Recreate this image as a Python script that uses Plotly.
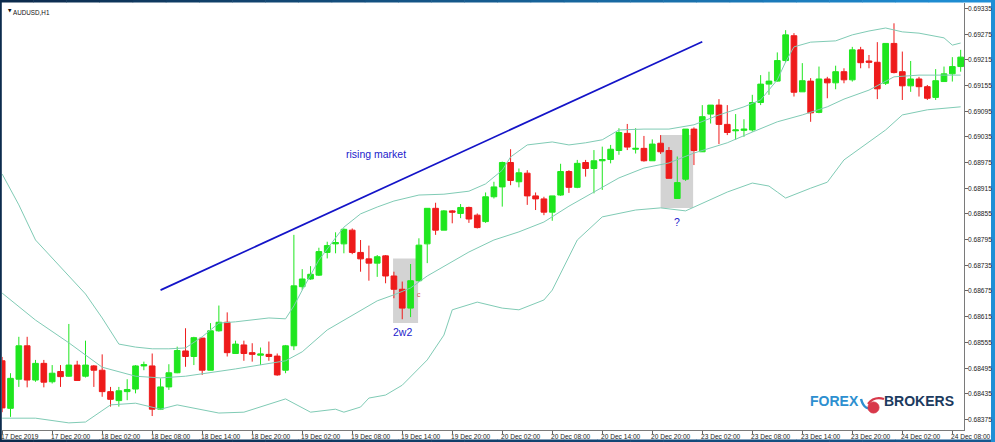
import plotly.graph_objects as go

# ---------------- data ----------------
bars = list(range(116))

opens = [0.68512, 0.68401, 0.68469, 0.68547, 0.68467, 0.68506, 0.68463, 0.68487, 0.68476, 0.68502,
         0.68476, 0.68500, 0.68490, 0.68440, 0.68419, 0.68440, 0.68446, 0.68500, 0.68500, 0.68399,
         0.68451, 0.68484, 0.68535, 0.68522, 0.68565, 0.68490, 0.68582, 0.68602, 0.68529, 0.68549,
         0.68531, 0.68525, 0.68527, 0.68523, 0.68490, 0.68547, 0.68685, 0.68703, 0.68712, 0.68765,
         0.68785, 0.68785, 0.68817, 0.68765, 0.68750, 0.68740, 0.68757, 0.68710, 0.68679, 0.68635,
         0.68699, 0.68785, 0.68868, 0.68817, 0.68862, 0.68856, 0.68870, 0.68852, 0.68837, 0.68895,
         0.68918, 0.68975, 0.68930, 0.68950, 0.68897, 0.68890, 0.68859, 0.68899, 0.68954, 0.68917,
         0.68975, 0.68961, 0.68979, 0.68982, 0.69003, 0.69043, 0.69006, 0.69008, 0.68979, 0.69020,
         0.69003, 0.68891, 0.68936, 0.69053, 0.69000, 0.69088, 0.69109, 0.69064, 0.69049, 0.69050,
         0.69051, 0.69115, 0.69158, 0.69165, 0.69213, 0.69271, 0.69140, 0.69165, 0.69092, 0.69170,
         0.69161, 0.69187, 0.69168, 0.69238, 0.69212, 0.69209, 0.69160, 0.69253, 0.69187, 0.69154,
         0.69170, 0.69152, 0.69127, 0.69164, 0.69182, 0.69199]
highs = [0.68521, 0.68483, 0.68568, 0.68568, 0.68514, 0.68514, 0.68502, 0.68502, 0.68598, 0.68512,
         0.68559, 0.68502, 0.68527, 0.68451, 0.68451, 0.68469, 0.68502, 0.68510, 0.68529, 0.68471,
         0.68504, 0.68545, 0.68588, 0.68568, 0.68565, 0.68600, 0.68641, 0.68625, 0.68559, 0.68559,
         0.68553, 0.68543, 0.68557, 0.68529, 0.68549, 0.68806, 0.68726, 0.68733, 0.68776, 0.68790,
         0.68812, 0.68821, 0.68821, 0.68794, 0.68781, 0.68759, 0.68759, 0.68720, 0.68697, 0.68738,
         0.68798, 0.68868, 0.68881, 0.68864, 0.68864, 0.68878, 0.68872, 0.68856, 0.68905, 0.68930,
         0.68977, 0.69006, 0.68961, 0.68957, 0.68905, 0.68895, 0.68897, 0.68972, 0.68957, 0.68981,
         0.68981, 0.69004, 0.69012, 0.69016, 0.69055, 0.69065, 0.69055, 0.69037, 0.69029, 0.69039,
         0.69011, 0.68989, 0.69053, 0.69057, 0.69109, 0.69109, 0.69123, 0.69109, 0.69088, 0.69076,
         0.69133, 0.69179, 0.69187, 0.69232, 0.69284, 0.69277, 0.69207, 0.69172, 0.69199, 0.69175,
         0.69201, 0.69195, 0.69245, 0.69245, 0.69226, 0.69256, 0.69253, 0.69300, 0.69234, 0.69212,
         0.69175, 0.69156, 0.69193, 0.69199, 0.69221, 0.69238]
lows = [0.68392, 0.68381, 0.68451, 0.68450, 0.68463, 0.68450, 0.68459, 0.68451, 0.68475, 0.68466,
        0.68473, 0.68451, 0.68428, 0.68405, 0.68405, 0.68420, 0.68436, 0.68490, 0.68383, 0.68397,
        0.68444, 0.68483, 0.68498, 0.68502, 0.68479, 0.68490, 0.68580, 0.68522, 0.68529, 0.68512,
        0.68510, 0.68502, 0.68512, 0.68477, 0.68483, 0.68537, 0.68677, 0.68701, 0.68710, 0.68751,
        0.68763, 0.68763, 0.68761, 0.68720, 0.68699, 0.68708, 0.68693, 0.68658, 0.68609, 0.68614,
        0.68696, 0.68740, 0.68806, 0.68817, 0.68833, 0.68845, 0.68834, 0.68821, 0.68834, 0.68891,
        0.68872, 0.68922, 0.68917, 0.68876, 0.68864, 0.68852, 0.68839, 0.68897, 0.68904, 0.68915,
        0.68942, 0.68903, 0.68911, 0.68973, 0.68993, 0.69004, 0.68996, 0.68977, 0.68979, 0.68995,
        0.68938, 0.68891, 0.68932, 0.68969, 0.69000, 0.69066, 0.69018, 0.69039, 0.69028, 0.69035,
        0.69047, 0.69109, 0.69133, 0.69164, 0.69209, 0.69129, 0.69140, 0.69070, 0.69090, 0.69125,
        0.69146, 0.69160, 0.69164, 0.69195, 0.69195, 0.69123, 0.69156, 0.69183, 0.69121, 0.69140,
        0.69129, 0.69121, 0.69121, 0.69164, 0.69164, 0.69187]
closes = [0.68402, 0.68471, 0.68547, 0.68467, 0.68506, 0.68462, 0.68483, 0.68475, 0.68502, 0.68466,
          0.68502, 0.68490, 0.68440, 0.68422, 0.68442, 0.68445, 0.68500, 0.68503, 0.68399, 0.68451,
          0.68484, 0.68536, 0.68522, 0.68566, 0.68490, 0.68582, 0.68602, 0.68531, 0.68551, 0.68529,
          0.68527, 0.68528, 0.68522, 0.68479, 0.68547, 0.68687, 0.68703, 0.68714, 0.68767, 0.68781,
          0.68788, 0.68819, 0.68765, 0.68750, 0.68740, 0.68755, 0.68710, 0.68679, 0.68635, 0.68699,
          0.68782, 0.68868, 0.68817, 0.68862, 0.68859, 0.68870, 0.68843, 0.68823, 0.68895, 0.68918,
          0.68975, 0.68933, 0.68951, 0.68897, 0.68890, 0.68859, 0.68897, 0.68954, 0.68917, 0.68973,
          0.68961, 0.68979, 0.68982, 0.69006, 0.69045, 0.69011, 0.69008, 0.68979, 0.69018, 0.69000,
          0.68938, 0.68928, 0.69053, 0.69003, 0.69082, 0.69109, 0.69064, 0.69045, 0.69051, 0.69053,
          0.69115, 0.69158, 0.69165, 0.69213, 0.69273, 0.69139, 0.69166, 0.69091, 0.69170, 0.69161,
          0.69187, 0.69168, 0.69238, 0.69208, 0.69209, 0.69147, 0.69253, 0.69185, 0.69154, 0.69170,
          0.69152, 0.69125, 0.69166, 0.69182, 0.69199, 0.69221]

# Bollinger bands, read at selected bars
upper_bars = [0, 2, 4, 6, 8, 10, 12, 14, 16, 18, 20, 22, 24, 26, 28, 30, 32, 34, 35, 36, 38, 40, 41, 43,
              45, 47, 50, 53, 56, 58, 60, 61, 63, 66, 68, 70, 72, 74, 77, 80, 83, 86, 89, 91, 93, 94,
              95, 97, 100, 102, 104, 106, 108, 110, 112, 113, 114, 115]
upper_vals = [0.68948, 0.68876, 0.68794, 0.68752, 0.68712, 0.68668, 0.68612, 0.68551, 0.68544, 0.68540,
              0.68540, 0.68542, 0.68568, 0.68600, 0.68603, 0.68607, 0.68612, 0.68610, 0.68640, 0.68677,
              0.68747, 0.68799, 0.68824, 0.68855, 0.68871, 0.68885, 0.68899, 0.68901, 0.68908, 0.68925,
              0.68957, 0.68988, 0.69016, 0.69023, 0.69016, 0.69021, 0.69028, 0.69051, 0.69053, 0.69053,
              0.69063, 0.69086, 0.69105, 0.69121, 0.69168, 0.69210, 0.69245, 0.69256, 0.69259, 0.69273,
              0.69282, 0.69289, 0.69280, 0.69277, 0.69270, 0.69266, 0.69249, 0.69254]
middle_bars = [0, 4, 8, 12, 16, 19, 22, 28, 34, 36, 39, 42, 45, 47, 49, 51, 53, 56, 59, 62, 65, 68, 71,
               74, 77, 80, 83, 87, 90, 93, 96, 99, 101, 104, 107, 110, 113, 115]
middle_vals = [0.68670, 0.68607, 0.68554, 0.68497, 0.68476, 0.68472, 0.68476, 0.68493, 0.68512, 0.68533,
               0.68584, 0.68619, 0.68652, 0.68666, 0.68682, 0.68710, 0.68733, 0.68766, 0.68794, 0.68813,
               0.68836, 0.68873, 0.68906, 0.68939, 0.68962, 0.68974, 0.68997, 0.69021, 0.69046, 0.69070,
               0.69086, 0.69105, 0.69123, 0.69144, 0.69175, 0.69179, 0.69179, 0.69179]
lower_bars = [0, 4, 8, 10, 13, 16, 19, 21, 26, 29, 34, 37, 40, 41, 43, 44, 46, 48, 51, 53, 54, 57, 60,
              62, 65, 66, 69, 72, 76, 79, 82, 84, 87, 90, 92, 93, 94, 97, 99, 101, 103, 106, 108, 111, 115]
lower_vals = [0.68378, 0.68378, 0.68367, 0.68369, 0.68409, 0.68413, 0.68399, 0.68409, 0.68390, 0.68392,
              0.68423, 0.68392, 0.68399, 0.68392, 0.68404, 0.68425, 0.68432, 0.68455, 0.68514, 0.68572,
              0.68631, 0.68649, 0.68635, 0.68631, 0.68654, 0.68677, 0.68794, 0.68848, 0.68864, 0.68869,
              0.68862, 0.68880, 0.68906, 0.68927, 0.68920, 0.68906, 0.68892, 0.68915, 0.68929, 0.68981,
              0.69009, 0.69051, 0.69086, 0.69098, 0.69105]

tick_bars = [0, 6, 12, 18, 24, 30, 36, 42, 48, 54, 60, 66, 72, 78, 84, 90, 96, 102, 108, 114]
tick_labels = ["17 Dec 2019", "17 Dec 20:00", "18 Dec 02:00", "18 Dec 08:00", "18 Dec 14:00",
               "18 Dec 20:00", "19 Dec 02:00", "19 Dec 08:00", "19 Dec 14:00", "19 Dec 20:00",
               "20 Dec 02:00", "20 Dec 08:00", "20 Dec 14:00", "20 Dec 20:00", "23 Dec 02:00",
               "23 Dec 08:00", "23 Dec 14:00", "23 Dec 20:00", "24 Dec 02:00", "24 Dec 08:00"]
price_ticks = [0.68375, 0.68435, 0.68495, 0.68555, 0.68615, 0.68675, 0.68735, 0.68795, 0.68855,
               0.68915, 0.68975, 0.69035, 0.69095, 0.69155, 0.69215, 0.69275, 0.69335]
price_labels = ["0.68375", "0.68435", "0.68495", "0.68555", "0.68615", "0.68675", "0.68735", "0.68795",
                "0.68855", "0.68915", "0.68975", "0.69035", "0.69095", "0.69155", "0.69215", "0.69275",
                "0.69335"]

trend_bars = [19, 84]
trend_prices = [0.68677, 0.69257]

box_2w2_bars = [46.9, 49.9]
box_2w2_prices = [0.68600, 0.68751]
box_q_bars = [79.0, 82.9]
box_q_prices = [0.68869, 0.69039]

notes = [("rising market", 44.9, 0.68995, 10.5), ("2w2", 48.0, 0.68579, 10.5), ("?", 81.0, 0.68836, 10.5)]

# ---------------- layout geometry ----------------
W, H = 995, 442
ML, MR, MT, MB = 2, 31, 3, 12
X_RANGE = [-0.02, 115.40]
Y_RANGE = [0.683504, 0.693474]
FONT = "Liberation Sans, Arial, sans-serif"
GREEN = "#1fe61f"
RED = "#ee1b1b"
BAND = "#80cbb5"
BLUE_TXT = "#1b1bcc"


def pxx(px):
    return (px - ML) / (W - ML - MR)


def pxy(py):
    return (H - MB - py) / (H - MT - MB)


fig = go.Figure()

fig.add_trace(go.Candlestick(
    x=bars, open=opens, high=highs, low=lows, close=closes,
    increasing=dict(line=dict(color=GREEN, width=1), fillcolor=GREEN),
    decreasing=dict(line=dict(color=RED, width=1), fillcolor=RED),
    whiskerwidth=0, showlegend=False, hoverinfo="skip"))

for bx, vals in ((upper_bars, upper_vals), (middle_bars, middle_vals), (lower_bars, lower_vals)):
    fig.add_trace(go.Scatter(x=bx, y=vals, mode="lines", line=dict(color=BAND, width=1),
                             showlegend=False, hoverinfo="skip"))

fig.add_trace(go.Scatter(x=trend_bars, y=trend_prices, mode="lines",
                         line=dict(color="#1414c8", width=1.7), showlegend=False, hoverinfo="skip"))

shapes = []
for bx, pv in ((box_2w2_bars, box_2w2_prices), (box_q_bars, box_q_prices)):
    shapes.append(dict(type="rect", xref="x", yref="y", x0=bx[0], x1=bx[1], y0=pv[0], y1=pv[1],
                       fillcolor="#d3d3d3", line=dict(width=0), layer="below"))


def mix(c1, c2, t):
    a = [int(c1[i:i + 2], 16) for i in (1, 3, 5)]
    b = [int(c2[i:i + 2], 16) for i in (1, 3, 5)]
    return "rgb(%d,%d,%d)" % tuple(round(a[k] + (b[k] - a[k]) * t) for k in range(3))


NAVY = "#0c2b4d"
BRIGHT = "#1f8fd6"
nseg = 30
for k in range(nseg):
    x0 = W * k / nseg
    x1 = W * (k + 1) / nseg + 0.5
    shapes.append(dict(type="rect", xref="paper", yref="paper", x0=pxx(x0), x1=pxx(x1),
                       y0=pxy(2.5), y1=pxy(0), fillcolor=mix(NAVY, BRIGHT, k / (nseg - 1)),
                       line=dict(width=0), layer="above"))
    shapes.append(dict(type="rect", xref="paper", yref="paper", x0=pxx(x0), x1=pxx(x1),
                       y0=pxy(H), y1=pxy(439.5), fillcolor=mix(NAVY, "#16588f", k / (nseg - 1)),
                       line=dict(width=0), layer="above"))
shapes.append(dict(type="rect", xref="paper", yref="paper", x0=pxx(0), x1=pxx(1.8),
                   y0=pxy(H), y1=pxy(0), fillcolor=NAVY, line=dict(width=0), layer="above"))
shapes.append(dict(type="rect", xref="paper", yref="paper", x0=pxx(991), x1=pxx(W),
                   y0=pxy(H), y1=pxy(0), fillcolor=BRIGHT, line=dict(width=0), layer="above"))


def P(x, y):
    return "%.5f %.5f" % (pxx(x), pxy(y))


shapes.append(dict(type="path", xref="paper", yref="paper",
                   path="M %s Q %s %s" % (P(861, 399), P(865, 413), P(875, 406)),
                   line=dict(color="#2d8fd0", width=2.5), layer="above"))
shapes.append(dict(type="circle", xref="paper", yref="paper", x0=pxx(868), x1=pxx(879),
                   y0=pxy(413), y1=pxy(402), fillcolor="#d8384a", line=dict(color="#d8384a", width=1),
                   layer="above"))
shapes.append(dict(type="path", xref="paper", yref="paper",
                   path="M %s Q %s %s" % (P(868, 404), P(874, 396), P(884, 399)),
                   line=dict(color="#d8384a", width=2.2), layer="above"))

annotations = []
for b, lab in zip(tick_bars, tick_labels):
    annotations.append(dict(x=b, xref="x", y=0, yref="paper", yanchor="top", xanchor="left",
                            text=lab, showarrow=False, xshift=-3, yshift=-1,
                            font=dict(family=FONT, size=6.6, color="#222")))
for p, lab in zip(price_ticks, price_labels):
    annotations.append(dict(x=1, xref="paper", y=p, yref="y", xanchor="left", yanchor="middle",
                            text=lab, showarrow=False, xshift=2,
                            font=dict(family=FONT, size=6.6, color="#222")))
for text, b, p, s in notes:
    annotations.append(dict(x=b, y=p, xref="x", yref="y", text=text, showarrow=False,
                            font=dict(family=FONT, size=s, color=BLUE_TXT)))
annotations.append(dict(x=49.97, y=0.68666, xref="x", yref="y", text="c", showarrow=False,
                        font=dict(family=FONT, size=7, color="#e05050")))
annotations.append(dict(x=pxx(11), y=pxy(6.5), xref="paper", yref="paper", text="AUDUSD,H1",
                        xanchor="left", showarrow=False, font=dict(family=FONT, size=6.3, color="#111")))
annotations.append(dict(x=pxx(5.5), y=pxy(6), xref="paper", yref="paper", text="▼",
                        showarrow=False, font=dict(family="DejaVu Sans", size=4.5, color="#111")))
annotations.append(dict(x=pxx(861), y=pxy(410.5), xref="paper", yref="paper", text="<b>FOREX</b>",
                        xanchor="right", showarrow=False,
                        font=dict(family=FONT, size=14, color="#2d8fd0")))
annotations.append(dict(x=pxx(882), y=pxy(410.5), xref="paper", yref="paper", text="<b>BROKERS</b>",
                        xanchor="left", showarrow=False,
                        font=dict(family=FONT, size=14, color="#1c3a5e")))

fig.update_layout(
    width=W, height=H,
    margin=dict(l=ML, r=MR, t=MT, b=MB, pad=0, autoexpand=False),
    paper_bgcolor="white", plot_bgcolor="white",
    showlegend=False, hovermode=False,
    boxgap=0.32, boxgroupgap=0,
    shapes=shapes, annotations=annotations,
    xaxis=dict(range=X_RANGE, rangeslider=dict(visible=False), showgrid=False, zeroline=False,
               tickmode="array", tickvals=tick_bars, showticklabels=False,
               ticks="outside", ticklen=3, tickcolor="#666", showline=True, linecolor="#7a7a7a",
               linewidth=1, fixedrange=True),
    yaxis=dict(range=Y_RANGE, side="right", showgrid=False, zeroline=False,
               tickmode="array", tickvals=price_ticks, showticklabels=False,
               ticks="outside", ticklen=3, tickcolor="#666", showline=True, linecolor="#7a7a7a",
               linewidth=1, fixedrange=True),
)

fig.write_html("out.html", config={"displayModeBar": False},
               post_script="document.body.style.margin='0px';document.body.style.padding='0px';"
                           "document.body.style.overflow='hidden';")
